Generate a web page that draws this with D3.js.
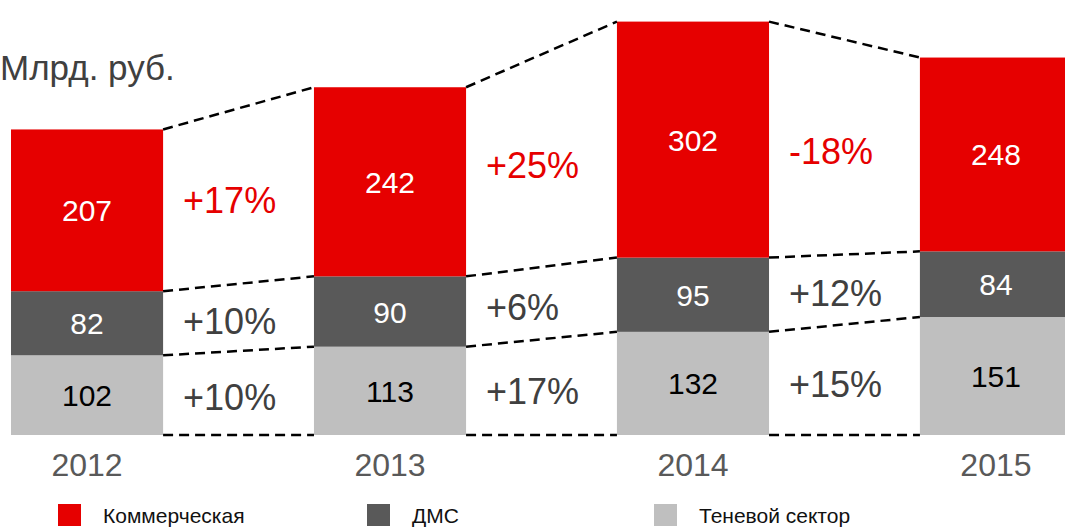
<!DOCTYPE html>
<html>
<head>
<meta charset="utf-8">
<script src="https://cdn.jsdelivr.net/npm/d3@7"></script>
<style>
  html, body { margin: 0; padding: 0; background: #fff; }
  svg { display: block; font-family: "Liberation Sans", Arial, sans-serif; }
</style>
</head>
<body>
<div id="chart"></div>
<script>
// data
const years = ["2012", "2013", "2014", "2015"];
const shadow = [102, 113, 132, 151];
const dms = [82, 90, 95, 84];
const commercial = [207, 242, 302, 248];
const growthShadow = ["+10%", "+17%", "+15%"];
const growthDms = ["+10%", "+6%", "+12%"];
const growthCommercial = ["+17%", "+25%", "-18%"];
const seriesNames = ["Коммерческая", "ДМС", "Теневой сектор"];
const unitLabel = "Млрд. руб.";

const width = 1065, height = 528;
const keys = ["shadow", "dms", "commercial"];
const colors = { shadow: "#bfbfbf", dms: "#595959", commercial: "#e60000" };
const valueColors = { shadow: "#000", dms: "#fff", commercial: "#fff" };
const growthColors = { shadow: "#404040", dms: "#404040", commercial: "#e60000" };
const growth = { shadow: growthShadow, dms: growthDms, commercial: growthCommercial };

const table = years.map((y, i) => ({ year: y, shadow: shadow[i], dms: dms[i], commercial: commercial[i] }));
const series = d3.stack().keys(keys)(table);

const svg = d3.select("#chart").append("svg")
    .attr("width", width)
    .attr("height", height);

const x = d3.scaleBand()
    .domain(years)
    .range([11, 1072])
    .paddingInner(0.498)
    .paddingOuter(0);

const y = d3.scaleLinear()
    .domain([0, 540])
    .range([435, 13]);

// bars
const groups = svg.append("g").selectAll("g")
    .data(series)
    .join("g")
    .attr("fill", d => colors[d.key]);

groups.selectAll("rect")
    .data(d => d)
    .join("rect")
    .attr("x", d => x(d.data.year))
    .attr("y", d => y(d[1]))
    .attr("width", x.bandwidth())
    .attr("height", d => y(d[0]) - y(d[1]));

// values in segments
series.forEach(s => {
    svg.append("g").selectAll("text")
        .data(s)
        .join("text")
        .attr("x", d => x(d.data.year) + x.bandwidth() / 2)
        .attr("y", d => (y(d[0]) + y(d[1])) / 2 + 11)
        .attr("text-anchor", "middle")
        .attr("fill", valueColors[s.key])
        .style("font-size", "30px")
        .text(d => d.data[s.key]);
});

// dashed connectors
const dash = svg.append("g")
    .attr("stroke", "#000")
    .attr("stroke-width", 2.5)
    .attr("stroke-dasharray", "10,6")
    .attr("fill", "none");

for (let i = 0; i < years.length - 1; i++) {
    const x0 = x(years[i]) + x.bandwidth();
    const x1 = x(years[i + 1]);
    dash.append("line")
        .attr("x1", x0).attr("x2", x1)
        .attr("y1", y(0)).attr("y2", y(0));
    series.forEach(s => {
        dash.append("line")
            .attr("x1", x0).attr("x2", x1)
            .attr("y1", y(s[i][1])).attr("y2", y(s[i + 1][1]));
    });
}

// growth labels
series.forEach(s => {
    for (let i = 0; i < years.length - 1; i++) {
        const m0 = (y(s[i][0]) + y(s[i][1])) / 2;
        const m1 = (y(s[i + 1][0]) + y(s[i + 1][1])) / 2;
        svg.append("text")
            .attr("x", x(years[i]) + x.bandwidth() + 20)
            .attr("y", (m0 + m1) / 2 + 17)
            .attr("fill", growthColors[s.key])
            .style("font-size", "36px")
            .text(growth[s.key][i]);
    }
});

// year labels
svg.append("g").selectAll("text")
    .data(years)
    .join("text")
    .attr("x", d => x(d) + x.bandwidth() / 2)
    .attr("y", 476)
    .attr("text-anchor", "middle")
    .attr("fill", "#595959")
    .style("font-size", "32px")
    .text(d => d);

// unit label
svg.append("text")
    .attr("x", 0)
    .attr("y", 80)
    .attr("fill", "#404040")
    .style("font-size", "35px")
    .text(unitLabel);

// legend
const legendX = [58, 367, 654];
const legendKeys = ["commercial", "dms", "shadow"];
const legend = svg.append("g").selectAll("g")
    .data(seriesNames)
    .join("g")
    .attr("transform", (d, i) => `translate(${legendX[i]},504)`);

legend.append("rect")
    .attr("width", 23)
    .attr("height", 22)
    .attr("fill", (d, i) => colors[legendKeys[i]]);

legend.append("text")
    .attr("x", 45)
    .attr("y", 19)
    .attr("fill", "#111")
    .style("font-size", "21px")
    .text(d => d);
</script>
</body>
</html>
